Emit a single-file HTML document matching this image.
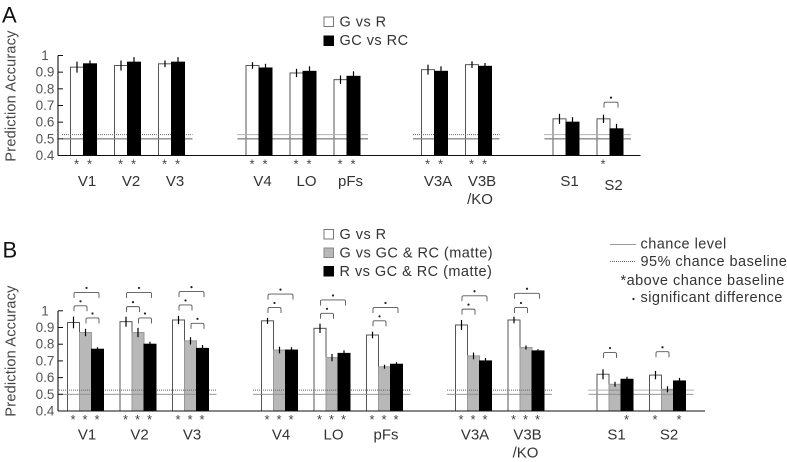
<!DOCTYPE html>
<html>
<head>
<meta charset="utf-8">
<style>
html,body{margin:0;padding:0;background:#fff;width:787px;height:462px;overflow:hidden}
svg{display:block;font-family:"Liberation Sans",sans-serif;filter:blur(0.35px)}
</style>
</head>
<body>
<svg id="figure" width="787" height="462" viewBox="0 0 787 462" xmlns="http://www.w3.org/2000/svg">
  <text x="2" y="22.5" font-size="22" fill="#111">A</text>
  <text x="2.5" y="257.5" font-size="22" fill="#111">B</text>

  <g font-size="14.5" fill="#333" letter-spacing="0.47">
    <rect x="324" y="17" width="9.5" height="9.5" fill="#fff" stroke="#777"/>
    <text x="339.5" y="26.5">G vs R</text>
    <rect x="324" y="36" width="9.5" height="9.5" fill="#000" stroke="#000"/>
    <text x="339.5" y="45">GC vs RC</text>
  </g>

  <g font-size="14.5" fill="#333" letter-spacing="0.47">
    <rect x="324" y="229.5" width="9.5" height="9.5" fill="#fff" stroke="#777"/>
    <text x="339.5" y="239">G vs R</text>
    <rect x="324" y="248" width="9.5" height="9.5" fill="#b8b8b8" stroke="#888"/>
    <text x="339.5" y="257.5">G vs GC &amp; RC (matte)</text>
    <rect x="324" y="266.5" width="9.5" height="9.5" fill="#000" stroke="#000"/>
    <text x="339.5" y="276">R vs GC &amp; RC (matte)</text>
  </g>

  <g font-size="14.5" fill="#333" letter-spacing="0.47">
    <line x1="610" x2="636" y1="244.5" y2="244.5" stroke="#999" stroke-width="1"/>
    <text x="640.5" y="248.5">chance level</text>
    <line x1="610" x2="636" y1="261.5" y2="261.5" stroke="#666" stroke-width="1" stroke-dasharray="1 1"/>
    <text x="640.5" y="266">95% chance baseline</text>
    <text x="620.5" y="285">*above chance baseline</text>
    <circle cx="633.5" cy="299" r="1.1" fill="#222"/>
    <text x="640.5" y="302">significant difference</text>
  </g>
</svg>

<script>
// Shared axis data
const categories = ["V1", "V2", "V3", "V4", "LO", "pFs", "V3A", "V3B\n/KO", "S1", "S2"];
const categoryBlocks = [0, 0, 0, 1, 1, 1, 2, 2, 3, 3];
const tickValues = [0.4, 0.5, 0.6, 0.7, 0.8, 0.9, 1];
const tickLabels = ["0.4", "0.5", "0.6", "0.7", "0.8", "0.9", "1"];
const chanceLevel = 0.5;
const chanceBaseline = 0.525;

// Panel A values
const panelAGvsR = [0.93, 0.94, 0.95, 0.94, 0.895, 0.855, 0.915, 0.945, 0.62, 0.62];
const panelAGCvsRC = [0.95, 0.96, 0.96, 0.925, 0.905, 0.875, 0.905, 0.935, 0.60, 0.56];
const panelAGvsRError = [0.033, 0.03, 0.02, 0.02, 0.025, 0.025, 0.03, 0.02, 0.03, 0.025];
const panelAGCvsRCError = [0.02, 0.03, 0.03, 0.025, 0.03, 0.03, 0.03, 0.02, 0.03, 0.03];
const panelAGvsRStars = [1, 1, 1, 1, 1, 1, 1, 1, 0, 1];
const panelAGCvsRCStars = [1, 1, 1, 1, 1, 1, 1, 1, 0, 0];
// [category index, from series, to series, accuracy level of bracket top]
const panelABrackets = [[9, 0, 1, 0.72]];

// Panel B values
const panelBGvsR = [0.93, 0.935, 0.945, 0.94, 0.895, 0.855, 0.915, 0.945, 0.62, 0.615];
const panelBGvsMatte = [0.87, 0.87, 0.82, 0.765, 0.72, 0.665, 0.73, 0.78, 0.56, 0.53];
const panelBRvsMatte = [0.77, 0.80, 0.775, 0.765, 0.745, 0.68, 0.70, 0.76, 0.59, 0.58];
const panelBGvsRError = [0.035, 0.03, 0.025, 0.018, 0.028, 0.02, 0.03, 0.02, 0.03, 0.025];
const panelBGvsMatteError = [0.022, 0.028, 0.022, 0.02, 0.022, 0.012, 0.02, 0.012, 0.015, 0.018];
const panelBRvsMatteError = [0.012, 0.015, 0.02, 0.017, 0.018, 0.012, 0.018, 0.01, 0.015, 0.018];
const panelBGvsRStars = [1, 1, 1, 1, 1, 1, 1, 1, 0, 1];
const panelBGvsMatteStars = [1, 1, 1, 1, 1, 1, 1, 1, 0, 0];
const panelBRvsMatteStars = [1, 1, 1, 1, 1, 1, 1, 1, 1, 1];
const panelBBrackets = [
  [0, 0, 2, 1.11], [0, 0, 1, 1.03], [0, 1, 2, 0.957],
  [1, 0, 2, 1.11], [1, 0, 1, 1.025], [1, 1, 2, 0.957],
  [2, 0, 2, 1.115], [2, 0, 1, 1.035], [2, 1, 2, 0.925],
  [3, 0, 2, 1.10], [3, 0, 1, 1.02],
  [4, 0, 2, 1.065], [4, 0, 1, 0.985],
  [5, 0, 2, 1.02], [5, 0, 1, 0.94],
  [6, 0, 2, 1.09], [6, 0, 1, 1.01],
  [7, 0, 2, 1.105], [7, 0, 1, 1.02],
  [8, 0, 1, 0.75],
  [9, 0, 1, 0.755]
];

const SVG_NS = "http://www.w3.org/2000/svg";
const figure = document.getElementById("figure");

function make(tag, parent, props) {
  const el = document.createElementNS(SVG_NS, tag);
  for (const k in props) el.setAttribute(k, props[k]);
  parent.appendChild(el);
  return el;
}

function drawPanel(cfg) {
  const root = make("g", figure, {});
  
  

  const y = v => cfg.yBase - (v - 0.4) * cfg.pxPerUnit;
  const groupX = i => cfg.x0 + cfg.pitch * i + cfg.blockGap * categoryBlocks[i];
  const barX = (i, s) => groupX(i) + s * cfg.barW;
  const barC = (i, s) => barX(i, s) + cfg.barW / 2;
  const lastSeries = cfg.series.length - 1;

  function drawBars(seriesIndex) {
    const s = cfg.series[seriesIndex];
    s.values.forEach((v, i) => {
      const bar = make("rect", root, {
        x: barX(i, seriesIndex), y: y(v), width: cfg.barW,
        height: y(0.4) - y(v), fill: s.fill, stroke: s.stroke, "stroke-width": 1
      });
      
      
    });
  }

  // light bars sit behind the chance lines, black bars cover them
  cfg.series.forEach((s, k) => { if (s.fill !== "#000") drawBars(k); });

  const blocks = [...new Set(categoryBlocks)];
  blocks.forEach(b => {
    const first = categoryBlocks.indexOf(b);
    const last = categoryBlocks.lastIndexOf(b);
    const x1 = groupX(first) - 8.5;
    const x2 = barX(last, lastSeries) + cfg.barW + 8;
    const solid = make("line", root, {
      x1: x1, x2: x2, y1: y(chanceLevel), y2: y(chanceLevel),
      stroke: "#8a8a8a", "stroke-width": cfg.chanceWidth
    });
    
    
    const dotted = make("line", root, {
      x1: x1, x2: x2, y1: y(chanceBaseline), y2: y(chanceBaseline),
      stroke: "#666", "stroke-width": 1, "stroke-dasharray": "1 1"
    });
    
    
  });

  cfg.series.forEach((s, k) => { if (s.fill === "#000") drawBars(k); });

  // error bars
  cfg.series.forEach((s, k) => {
    s.values.forEach((v, i) => {
      const err = make("line", root, {
        x1: barC(i, k), x2: barC(i, k), y1: y(v + s.errors[i]), y2: y(v - s.errors[i]),
        stroke: "#000", "stroke-width": 1.2
      });
      
      
    });
  });

  // axes
  const xAxis = make("line", root, {
    x1: cfg.axisX, x2: cfg.axisEnd, y1: y(0.4), y2: y(0.4), stroke: "#111", "stroke-width": 1.1
  });
  
  
  const yAxis = make("line", root, {
    x1: cfg.axisX, x2: cfg.axisX, y1: y(1), y2: y(0.4), stroke: "#111", "stroke-width": 1.1
  });
  
  

  tickValues.forEach((v, i) => {
    const tick = make("line", root, {
      x1: cfg.axisX, x2: cfg.axisX + 5, y1: y(v), y2: y(v), stroke: "#111", "stroke-width": 1
    });
    
    
    const label = make("text", root, {
      x: 45, y: y(v) + 4.5, "text-anchor": "middle", "font-size": 13.5, fill: "#555"
    });
    label.textContent = tickLabels[i];
    
    
  });

  const title = make("text", root, {
    transform: "translate(15.5," + cfg.titleY + ") rotate(-90)",
    "text-anchor": "middle", "font-size": 14.5, fill: "#444", "letter-spacing": 0.2
  });
  title.textContent = "Prediction Accuracy";
  
  

  // category labels
  categories.forEach((c, i) => {
    const parts = c.split("\n");
    const shift = (cfg.id === "panel-a" && c === "S2") ? 4 : 0;
    parts.forEach((p, j) => {
      const t = make("text", root, {
        x: groupX(i) + cfg.labelOffset - (j ? 2 : 0),
        y: cfg.labelY + shift + j * 18,
        "text-anchor": "middle", "font-size": 15, fill: "#333"
      });
      t.textContent = p;
      
      
    });
  });

  // above-chance stars
  cfg.series.forEach((s, k) => {
    s.stars.forEach((flag, i) => {
      if (!flag) return;
      const star = make("text", root, {
        x: barC(i, k) - 0.5, y: y(0.4) + cfg.starDy,
        "text-anchor": "middle", "font-size": 13, fill: "#444"
      });
      star.textContent = "*";
      
      
    });
  });

  // significance brackets
  cfg.brackets.forEach(b => {
    const x1 = barC(b[0], b[1]) + 0.5;
    const x2 = barC(b[0], b[2]) + 1.5;
    const top = y(b[3]);
    const path = make("path", root, {
      d: "M" + x1 + " " + (top + 5.5) + "V" + (top + 1.5) + "Q" + x1 + " " + top + " " + (x1 + 1.5) + " " + top +
         "H" + (x2 - 1.5) + "Q" + x2 + " " + top + " " + x2 + " " + (top + 1.5) + "V" + (top + 5.5),
      fill: "none", stroke: "#555", "stroke-width": 0.9
    });
    
    
    const dot = make("circle", root, {
      cx: (x1 + x2) / 2, cy: top - 4.5, r: 1.1, fill: "#222"
    });
    
    
  });
}

drawPanel({
  id: "panel-a", yBase: 155.5, pxPerUnit: 166.7, x0: 70.5, pitch: 44, blockGap: 43.5, barW: 13,
  axisX: 58, axisEnd: 640.5, chanceWidth: 1.4, labelOffset: 16.5, labelY: 186, starDy: 13, titleY: 96,
  series: [
    { key: "g-vs-r", fill: "#fff", stroke: "#555", values: panelAGvsR, errors: panelAGvsRError, stars: panelAGvsRStars },
    { key: "gc-vs-rc", fill: "#000", stroke: "#000", values: panelAGCvsRC, errors: panelAGCvsRCError, stars: panelAGCvsRCStars }
  ],
  brackets: panelABrackets
});

drawPanel({
  id: "panel-b", yBase: 411, pxPerUnit: 167, x0: 67.5, pitch: 52.5, blockGap: 36.5, barW: 12,
  axisX: 58, axisEnd: 705, chanceWidth: 0.9, labelOffset: 19.5, labelY: 439.5, starDy: 13, titleY: 351,
  series: [
    { key: "g-vs-r", fill: "#fff", stroke: "#555", values: panelBGvsR, errors: panelBGvsRError, stars: panelBGvsRStars },
    { key: "g-vs-matte", fill: "#b8b8b8", stroke: "#999", values: panelBGvsMatte, errors: panelBGvsMatteError, stars: panelBGvsMatteStars },
    { key: "r-vs-matte", fill: "#000", stroke: "#000", values: panelBRvsMatte, errors: panelBRvsMatteError, stars: panelBRvsMatteStars }
  ],
  brackets: panelBBrackets
});
</script>
</body>
</html>
